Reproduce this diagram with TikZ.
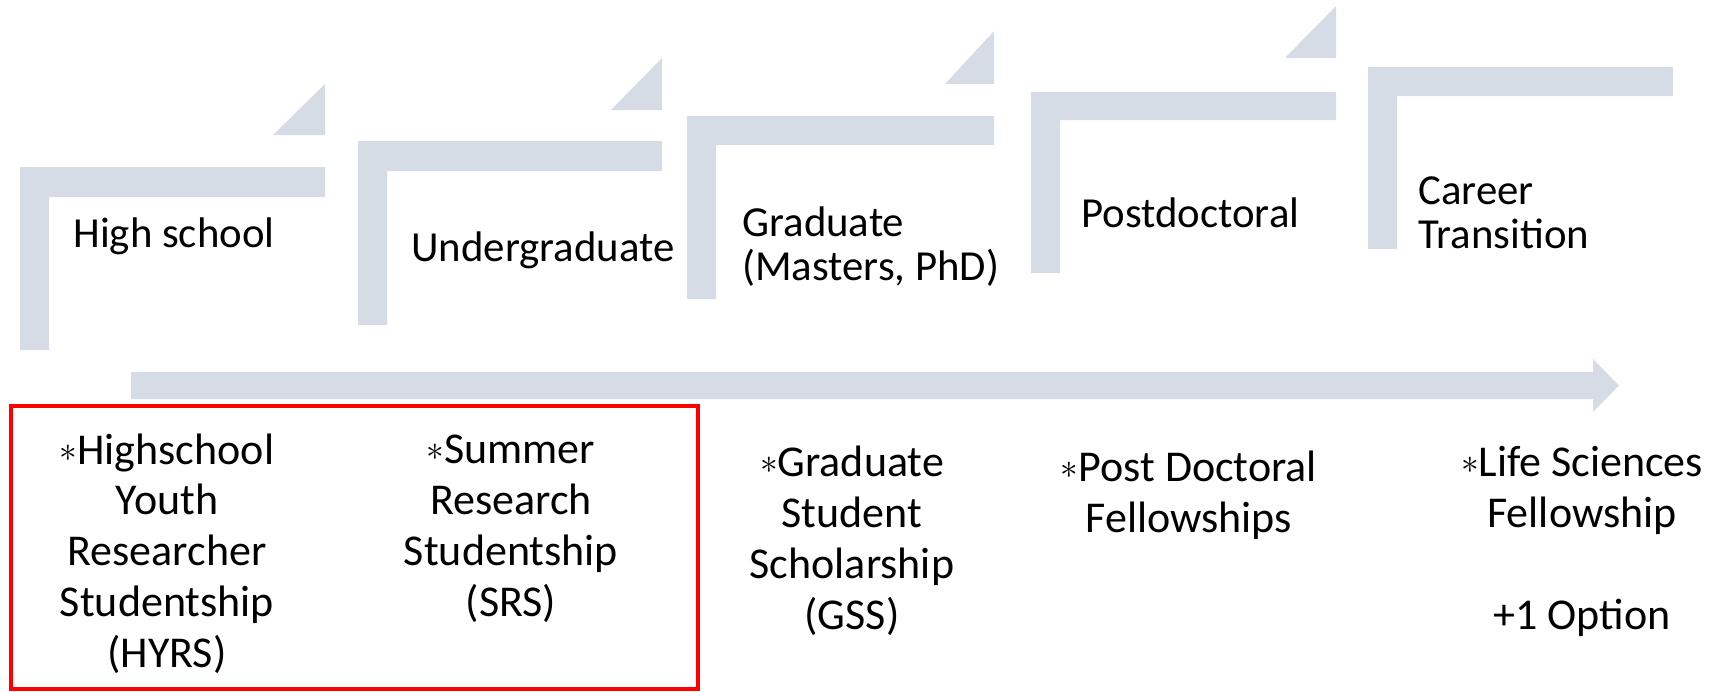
\documentclass[tikz,border=0pt]{standalone}
\usepackage{fontspec}
\usepackage{graphicx}
\setmainfont{Carlito}
\definecolor{stairgray}{RGB}{214,220,229}
\newcommand{\fundstar}{\raisebox{1.5pt}{\scalebox{0.85}{$\ast$}}}

\begin{document}
\begin{tikzpicture}[x=0.5pt, y=-0.5pt,
stairshape/.style={fill=stairgray, draw=none},
stagelabel/.style={anchor=base west, align=left, inner sep=0pt, font=\fontsize{21.4}{22}\selectfont},
fundlabel/.style={anchor=base, align=center, inner sep=0pt, font=\fontsize{22}{25.35}\selectfont},
redframe/.style={draw=red, line width=1.75pt}]
\useasboundingbox (0,0) rectangle (1711,691);

\fill[stairshape] (20,350) -- (20,167) -- (325,167) -- (325,197) -- (49,197) -- (49,350) -- cycle;
\fill[stairshape] (325,84) -- (325,135) -- (273,135) -- cycle;
\fill[stairshape] (358,325) -- (358,141) -- (662,141) -- (662,171) -- (387,171) -- (387,325) -- cycle;
\fill[stairshape] (662,58) -- (662,110) -- (611,110) -- cycle;
\fill[stairshape] (687,299) -- (687,116) -- (994,116) -- (994,145) -- (716,145) -- (716,299) -- cycle;
\fill[stairshape] (994,31) -- (994,84) -- (945,84) -- cycle;
\fill[stairshape] (1031,273) -- (1031,92) -- (1336,92) -- (1336,120) -- (1060,120) -- (1060,273) -- cycle;
\fill[stairshape] (1336,6) -- (1336,58) -- (1285,58) -- cycle;
\fill[stairshape] (1368,249) -- (1368,67) -- (1673,67) -- (1673,96) -- (1397,96) -- (1397,249) -- cycle;

% base anchor of a multi-line node sits on its last line
\node[stagelabel](highschool) at (73, 247) {High school};
\node[stagelabel](undergrad) at (411, 261) {Undergraduate};
\node[stagelabel](graduate) at (742, 280) {Graduate\\(Masters, PhD)};
\node[stagelabel](postdoc) at (1081, 227) {Postdoctoral};
\node[stagelabel](career) at (1418, 248) {Career\\Transition};

% timeline arrow
\fill[stairshape] (131,372) -- (1593,372) -- (1593,359) -- (1619,385.5) -- (1593,412) -- (1593,399) -- (131,399) -- cycle;

\node[fundlabel](hyrs) at (167, 667) {\fundstar Highschool\\Youth\\Researcher\\Studentship\\(HYRS)};
\node[fundlabel](srs) at (511, 616) {\fundstar Summer\\Research\\Studentship\\(SRS)};
\node[fundlabel](gss) at (852, 629) {\fundstar Graduate\\Student\\Scholarship\\(GSS)};
\node[fundlabel](pdf) at (1189, 532) {\fundstar Post Doctoral\\Fellowships};
\node[fundlabel](lsf) at (1582, 629) {\fundstar Life Sciences\\Fellowship\\[25.35pt]+1 Option};

\draw[redframe] (11, 406) rectangle (698, 689);

\end{tikzpicture}
\end{document}
